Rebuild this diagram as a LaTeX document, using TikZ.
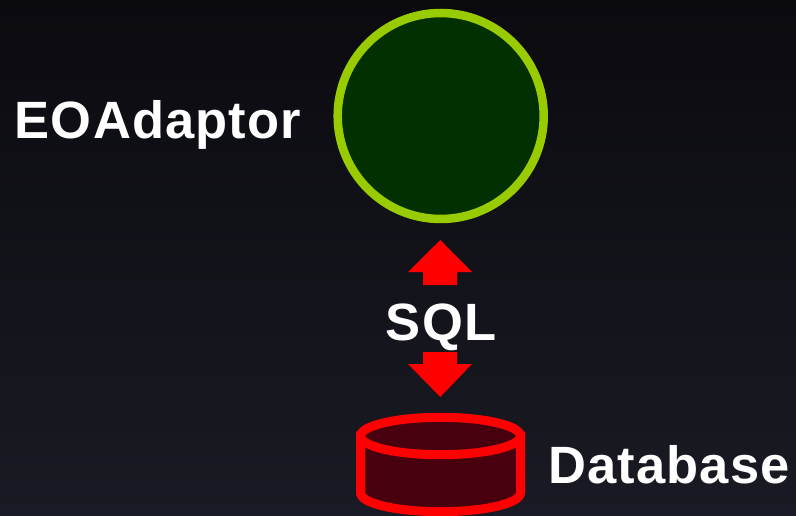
\documentclass[tikz,border=0pt]{standalone}
\usepackage{fontspec}
\setmainfont{Liberation Sans}
\definecolor{bgtop}{HTML}{0A0A0F}
\definecolor{bgbot}{HTML}{1A1A24}
\definecolor{lime}{HTML}{99CC00}
\definecolor{dgreen}{HTML}{033000}
\definecolor{dred}{HTML}{48000E}
\tikzset{lab/.style={text=white,font=\fontsize{52.5}{58}\bfseries\addfontfeature{LetterSpace=2.2}\selectfont,inner sep=0pt,anchor=base},
arrowshape/.style={fill=red,draw=none},
cyl/.style={draw=red,line width=9pt,fill=dred}}
\begin{document}
\begin{tikzpicture}[x=1pt,y=-1pt]
\useasboundingbox (0,0) rectangle (796,516);
\shade[top color=bgtop,bottom color=bgbot] (0,0) rectangle (796,516);
\node[circle,draw=lime,fill=dgreen,line width=8.5pt,minimum size=206pt,inner sep=0pt] (adaptor) at (440.7,116) {};
\node[lab] (eo) at (158,139) {EOAdaptor};
\node[lab] (sql) at (441,340) {SQL};
\node[lab] (db) at (669,483) {Database};
\fill[arrowshape] (440.3,240) -- (472,272) -- (457,272) -- (457,285) -- (423,285) -- (423,272) -- (408,272) -- cycle;
\fill[arrowshape] (440.3,397) -- (472,364) -- (457,364) -- (457,352) -- (423,352) -- (423,364) -- (408,364) -- cycle;
\path[cyl] (360.5,436) -- (360.5,493) arc[start angle=180,end angle=360,x radius=80,y radius=-18.7] -- (520.5,436) -- cycle;
\path[cyl] (440.5,436) ellipse[x radius=80,y radius=18.7];
\end{tikzpicture}
\end{document}
